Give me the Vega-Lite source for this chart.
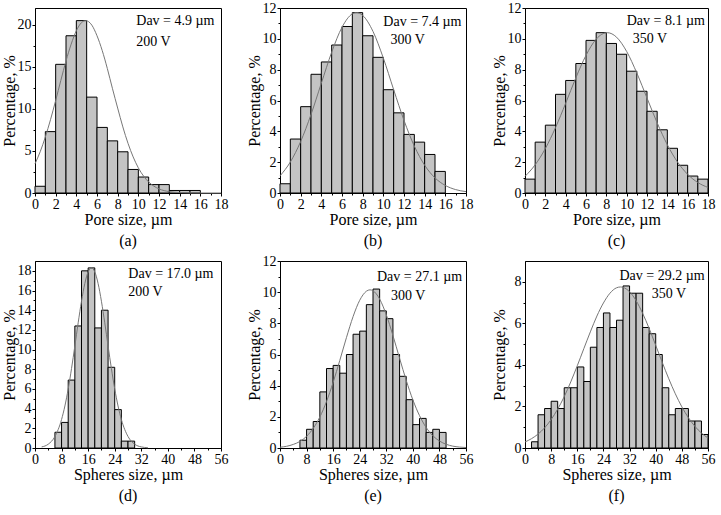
{
  "$schema": "https://vega.github.io/schema/vega-lite/v6.json",
  "background": "white",
  "padding": {"left": 0, "top": 0, "right": 0, "bottom": 0},
  "columns": 3,
  "spacing": {"row": 3, "column": 16},
  "datasets": {
    "bars": [
      {"panel":"a","from":0,"to":1,"pct":0.8},{"panel":"a","from":1,"to":2,"pct":7.3},{"panel":"a","from":2,"to":3,"pct":15.3},{"panel":"a","from":3,"to":4,"pct":18.7},{"panel":"a","from":4,"to":5,"pct":20.5},{"panel":"a","from":5,"to":6,"pct":11.4},{"panel":"a","from":6,"to":7,"pct":7.8},{"panel":"a","from":7,"to":8,"pct":6.2},{"panel":"a","from":8,"to":9,"pct":4.9},{"panel":"a","from":9,"to":10,"pct":2.8},{"panel":"a","from":10,"to":11,"pct":1.9},{"panel":"a","from":11,"to":12,"pct":1.0},{"panel":"a","from":12,"to":13,"pct":1.0},{"panel":"a","from":13,"to":14,"pct":0.3},{"panel":"a","from":14,"to":15,"pct":0.3},{"panel":"a","from":15,"to":16,"pct":0.3},
      {"panel":"b","from":0,"to":1,"pct":0.6},{"panel":"b","from":1,"to":2,"pct":3.5},{"panel":"b","from":2,"to":3,"pct":5.6},{"panel":"b","from":3,"to":4,"pct":7.7},{"panel":"b","from":4,"to":5,"pct":8.5},{"panel":"b","from":5,"to":6,"pct":9.6},{"panel":"b","from":6,"to":7,"pct":10.8},{"panel":"b","from":7,"to":8,"pct":11.7},{"panel":"b","from":8,"to":9,"pct":10.2},{"panel":"b","from":9,"to":10,"pct":8.8},{"panel":"b","from":10,"to":11,"pct":6.7},{"panel":"b","from":11,"to":12,"pct":5.2},{"panel":"b","from":12,"to":13,"pct":3.8},{"panel":"b","from":13,"to":14,"pct":3.3},{"panel":"b","from":14,"to":15,"pct":2.5},{"panel":"b","from":15,"to":16,"pct":1.4},
      {"panel":"c","from":0,"to":1,"pct":0.9},{"panel":"c","from":1,"to":2,"pct":3.3},{"panel":"c","from":2,"to":3,"pct":4.4},{"panel":"c","from":3,"to":4,"pct":6.4},{"panel":"c","from":4,"to":5,"pct":7.3},{"panel":"c","from":5,"to":6,"pct":8.4},{"panel":"c","from":6,"to":7,"pct":9.9},{"panel":"c","from":7,"to":8,"pct":10.4},{"panel":"c","from":8,"to":9,"pct":9.7},{"panel":"c","from":9,"to":10,"pct":9.0},{"panel":"c","from":10,"to":11,"pct":7.9},{"panel":"c","from":11,"to":12,"pct":6.6},{"panel":"c","from":12,"to":13,"pct":5.3},{"panel":"c","from":13,"to":14,"pct":4.1},{"panel":"c","from":14,"to":15,"pct":2.9},{"panel":"c","from":15,"to":16,"pct":1.8},{"panel":"c","from":16,"to":17,"pct":1.1},{"panel":"c","from":17,"to":18,"pct":0.9},
      {"panel":"d","from":6,"to":8,"pct":1.6},{"panel":"d","from":8,"to":10,"pct":2.6},{"panel":"d","from":10,"to":12,"pct":6.9},{"panel":"d","from":12,"to":14,"pct":12.4},{"panel":"d","from":14,"to":16,"pct":18.0},{"panel":"d","from":16,"to":18,"pct":18.3},{"panel":"d","from":18,"to":20,"pct":12.2},{"panel":"d","from":20,"to":22,"pct":14.0},{"panel":"d","from":22,"to":24,"pct":8.2},{"panel":"d","from":24,"to":26,"pct":3.9},{"panel":"d","from":26,"to":28,"pct":0.7},{"panel":"d","from":28,"to":30,"pct":0.7},
      {"panel":"e","from":6,"to":8,"pct":0.5},{"panel":"e","from":8,"to":10,"pct":1.2},{"panel":"e","from":10,"to":12,"pct":1.7},{"panel":"e","from":12,"to":14,"pct":3.6},{"panel":"e","from":14,"to":16,"pct":5.1},{"panel":"e","from":16,"to":18,"pct":5.3},{"panel":"e","from":18,"to":20,"pct":4.8},{"panel":"e","from":20,"to":22,"pct":6.0},{"panel":"e","from":22,"to":24,"pct":7.3},{"panel":"e","from":24,"to":26,"pct":7.5},{"panel":"e","from":26,"to":28,"pct":9.2},{"panel":"e","from":28,"to":30,"pct":10.2},{"panel":"e","from":30,"to":32,"pct":8.8},{"panel":"e","from":32,"to":34,"pct":8.3},{"panel":"e","from":34,"to":36,"pct":6.0},{"panel":"e","from":36,"to":38,"pct":4.6},{"panel":"e","from":38,"to":40,"pct":3.1},{"panel":"e","from":40,"to":42,"pct":1.5},{"panel":"e","from":42,"to":44,"pct":1.9},{"panel":"e","from":44,"to":46,"pct":1.0},{"panel":"e","from":46,"to":48,"pct":1.2},{"panel":"e","from":48,"to":50,"pct":1.0},
      {"panel":"f","from":2,"to":4,"pct":0.3},{"panel":"f","from":4,"to":6,"pct":1.6},{"panel":"f","from":6,"to":8,"pct":1.9},{"panel":"f","from":8,"to":10,"pct":2.25},{"panel":"f","from":10,"to":12,"pct":1.9},{"panel":"f","from":12,"to":14,"pct":2.9},{"panel":"f","from":14,"to":16,"pct":2.9},{"panel":"f","from":16,"to":18,"pct":3.9},{"panel":"f","from":18,"to":20,"pct":3.2},{"panel":"f","from":20,"to":22,"pct":4.85},{"panel":"f","from":22,"to":24,"pct":5.8},{"panel":"f","from":24,"to":26,"pct":6.5},{"panel":"f","from":26,"to":28,"pct":5.8},{"panel":"f","from":28,"to":30,"pct":6.15},{"panel":"f","from":30,"to":32,"pct":7.8},{"panel":"f","from":32,"to":34,"pct":7.45},{"panel":"f","from":34,"to":36,"pct":7.45},{"panel":"f","from":36,"to":38,"pct":5.8},{"panel":"f","from":38,"to":40,"pct":5.5},{"panel":"f","from":40,"to":42,"pct":4.5},{"panel":"f","from":42,"to":44,"pct":2.9},{"panel":"f","from":44,"to":46,"pct":1.6},{"panel":"f","from":46,"to":48,"pct":1.9},{"panel":"f","from":48,"to":50,"pct":1.9},{"panel":"f","from":50,"to":52,"pct":1.3},{"panel":"f","from":52,"to":54,"pct":1.3},{"panel":"f","from":54,"to":56,"pct":0.65}
    ],
    "curves": [
      {"panel":"a","x":0,"y":3.47},{"panel":"a","x":0.5,"y":4.9},{"panel":"a","x":1,"y":6.66},{"panel":"a","x":1.5,"y":8.72},{"panel":"a","x":2,"y":11.0},{"panel":"a","x":2.5,"y":13.39},{"panel":"a","x":3,"y":15.7},{"panel":"a","x":3.5,"y":17.7},{"panel":"a","x":4,"y":19.3},{"panel":"a","x":4.5,"y":20.26},{"panel":"a","x":4.9,"y":20.5},{"panel":"a","x":5.5,"y":19.96},{"panel":"a","x":6,"y":18.7},{"panel":"a","x":6.5,"y":16.96},{"panel":"a","x":7,"y":14.8},{"panel":"a","x":7.5,"y":12.4},{"panel":"a","x":8,"y":10.1},{"panel":"a","x":8.5,"y":7.86},{"panel":"a","x":9,"y":5.91},{"panel":"a","x":9.5,"y":4.29},{"panel":"a","x":10,"y":2.99},{"panel":"a","x":10.5,"y":2.02},{"panel":"a","x":11,"y":1.31},{"panel":"a","x":11.5,"y":0.82},{"panel":"a","x":12,"y":0.49},{"panel":"a","x":13,"y":0.16},{"panel":"a","x":14,"y":0.05},{"panel":"a","x":15,"y":0.01},{"panel":"a","x":16,"y":0},{"panel":"a","x":18,"y":0},
      {"panel":"b","x":0,"y":1.11},{"panel":"b","x":1,"y":2.01},{"panel":"b","x":2,"y":3.34},{"panel":"b","x":3,"y":5.09},{"panel":"b","x":4,"y":7.12},{"panel":"b","x":5,"y":9.13},{"panel":"b","x":6,"y":10.75},{"panel":"b","x":7,"y":11.62},{"panel":"b","x":7.4,"y":11.7},{"panel":"b","x":8,"y":11.52},{"panel":"b","x":9,"y":10.48},{"panel":"b","x":10,"y":8.75},{"panel":"b","x":11,"y":6.7},{"panel":"b","x":12,"y":4.71},{"panel":"b","x":13,"y":3.04},{"panel":"b","x":14,"y":1.8},{"panel":"b","x":15,"y":0.98},{"panel":"b","x":16,"y":0.49},{"panel":"b","x":17,"y":0.22},{"panel":"b","x":18,"y":0.09},
      {"panel":"c","x":0,"y":1.08},{"panel":"c","x":1,"y":1.83},{"panel":"c","x":2,"y":2.88},{"panel":"c","x":3,"y":4.24},{"panel":"c","x":4,"y":5.82},{"panel":"c","x":5,"y":7.47},{"panel":"c","x":6,"y":8.93},{"panel":"c","x":7,"y":9.98},{"panel":"c","x":8.1,"y":10.4},{"panel":"c","x":9,"y":10.11},{"panel":"c","x":10,"y":9.18},{"panel":"c","x":11,"y":7.78},{"panel":"c","x":12,"y":6.16},{"panel":"c","x":13,"y":4.55},{"panel":"c","x":14,"y":3.13},{"panel":"c","x":15,"y":2.01},{"panel":"c","x":16,"y":1.21},{"panel":"c","x":17,"y":0.68},{"panel":"c","x":18,"y":0.36},
      {"panel":"d","x":2,"y":0.11},{"panel":"d","x":4,"y":0.39},{"panel":"d","x":6,"y":1.17},{"panel":"d","x":8,"y":2.9},{"panel":"d","x":9,"y":4.27},{"panel":"d","x":10,"y":6.01},{"panel":"d","x":11,"y":8.08},{"panel":"d","x":12,"y":10.37},{"panel":"d","x":13,"y":12.72},{"panel":"d","x":14,"y":14.91},{"panel":"d","x":15,"y":16.71},{"panel":"d","x":16,"y":17.89},{"panel":"d","x":17,"y":18.3},{"panel":"d","x":18,"y":17.89},{"panel":"d","x":19,"y":16.71},{"panel":"d","x":20,"y":14.91},{"panel":"d","x":21,"y":12.72},{"panel":"d","x":22,"y":10.37},{"panel":"d","x":23,"y":8.08},{"panel":"d","x":24,"y":6.01},{"panel":"d","x":25,"y":4.27},{"panel":"d","x":26,"y":2.9},{"panel":"d","x":28,"y":1.17},{"panel":"d","x":30,"y":0.39},{"panel":"d","x":32,"y":0.11},{"panel":"d","x":34,"y":0.03},
      {"panel":"e","x":0,"y":0.05},{"panel":"e","x":2,"y":0.11},{"panel":"e","x":4,"y":0.23},{"panel":"e","x":6,"y":0.42},{"panel":"e","x":8,"y":0.75},{"panel":"e","x":10,"y":1.26},{"panel":"e","x":12,"y":1.99},{"panel":"e","x":14,"y":2.98},{"panel":"e","x":16,"y":4.21},{"panel":"e","x":18,"y":5.62},{"panel":"e","x":20,"y":7.08},{"panel":"e","x":22,"y":8.43},{"panel":"e","x":24,"y":9.48},{"panel":"e","x":26,"y":10.06},{"panel":"e","x":27.1,"y":10.15},{"panel":"e","x":28,"y":10.09},{"panel":"e","x":30,"y":9.56},{"panel":"e","x":32,"y":8.55},{"panel":"e","x":34,"y":7.22},{"panel":"e","x":36,"y":5.76},{"panel":"e","x":38,"y":4.34},{"panel":"e","x":40,"y":3.09},{"panel":"e","x":42,"y":2.08},{"panel":"e","x":44,"y":1.32},{"panel":"e","x":46,"y":0.79},{"panel":"e","x":48,"y":0.45},{"panel":"e","x":50,"y":0.24},{"panel":"e","x":52,"y":0.12},{"panel":"e","x":54,"y":0.06},{"panel":"e","x":56,"y":0.03},
      {"panel":"f","x":0,"y":0.29},{"panel":"f","x":2,"y":0.45},{"panel":"f","x":4,"y":0.67},{"panel":"f","x":6,"y":0.97},{"panel":"f","x":8,"y":1.37},{"panel":"f","x":10,"y":1.87},{"panel":"f","x":12,"y":2.47},{"panel":"f","x":14,"y":3.18},{"panel":"f","x":16,"y":3.96},{"panel":"f","x":18,"y":4.78},{"panel":"f","x":20,"y":5.59},{"panel":"f","x":22,"y":6.35},{"panel":"f","x":24,"y":6.98},{"panel":"f","x":26,"y":7.45},{"panel":"f","x":28,"y":7.71},{"panel":"f","x":29.2,"y":7.75},{"panel":"f","x":30,"y":7.73},{"panel":"f","x":32,"y":7.52},{"panel":"f","x":34,"y":7.09},{"panel":"f","x":36,"y":6.48},{"panel":"f","x":38,"y":5.75},{"panel":"f","x":40,"y":4.94},{"panel":"f","x":42,"y":4.12},{"panel":"f","x":44,"y":3.33},{"panel":"f","x":46,"y":2.61},{"panel":"f","x":48,"y":1.98},{"panel":"f","x":50,"y":1.46},{"panel":"f","x":52,"y":1.04},{"panel":"f","x":54,"y":0.72},{"panel":"f","x":56,"y":0.48}
    ],
    "notes": [
      {"panel":"a","x":9.8,"y":20.4,"text":"Dav = 4.9 µm"},{"panel":"a","x":9.8,"y":18.0,"text":"200 V"},
      {"panel":"b","x":10.0,"y":11.1,"text":"Dav = 7.4 µm"},{"panel":"b","x":10.7,"y":9.9,"text":"300 V"},
      {"panel":"c","x":10.0,"y":11.15,"text":"Dav = 8.1 µm"},{"panel":"c","x":10.6,"y":9.97,"text":"350 V"},
      {"panel":"d","x":28.1,"y":17.7,"text":"Dav = 17.0 µm"},{"panel":"d","x":28.1,"y":15.8,"text":"200 V"},
      {"panel":"e","x":29.2,"y":11.0,"text":"Dav = 27.1 µm"},{"panel":"e","x":33.4,"y":9.76,"text":"300 V"},
      {"panel":"f","x":28.9,"y":8.28,"text":"Dav = 29.2 µm"},{"panel":"f","x":38.8,"y":7.42,"text":"350 V"}
    ]
  },
  "concat": [
    {
      "width": 186, "height": 185,
      "title": {"text": "(a)", "orient": "bottom", "offset": 6},
      "layer": [
        {"data": {"name": "bars"}, "transform": [{"filter": "datum.panel == 'a'"}],
         "mark": {"type": "rect", "fill": "#c4c4c4", "stroke": "black", "strokeWidth": 1},
         "encoding": {
           "x": {"field": "from", "type": "quantitative", "scale": {"domain": [0, 18], "nice": false, "zero": false},
                 "axis": {"title": "Pore size, µm", "format": "d", "values": [0,1,2,3,4,5,6,7,8,9,10,11,12,13,14,15,16,17,18], "labelExpr": "datum.value % 2 ? '' : datum.label", "tickSize": {"condition": {"test": "datum.value % 2", "value": 2}, "value": 3}}},
           "x2": {"field": "to"},
           "y": {"field": "pct", "type": "quantitative", "scale": {"domain": [0, 22], "nice": false},
                 "axis": {"title": "Percentage, %", "format": "d", "values": [0,2.5,5,7.5,10,12.5,15,17.5,20], "labelExpr": "datum.value % 5 ? '' : datum.label", "tickSize": {"condition": {"test": "datum.value % 5", "value": 2}, "value": 3}}},
           "y2": {"datum": 0}
         }},
        {"data": {"name": "curves"}, "transform": [{"filter": "datum.panel == 'a'"}],
         "mark": {"type": "line", "color": "#777777", "strokeWidth": 1, "interpolate": "monotone"},
         "encoding": {"x": {"field": "x", "type": "quantitative"}, "y": {"field": "y", "type": "quantitative"}}},
        {"data": {"name": "notes"}, "transform": [{"filter": "datum.panel == 'a'"}],
         "mark": {"type": "text", "align": "left", "baseline": "middle", "fontSize": 14, "font": "Liberation Serif", "color": "black"},
         "encoding": {"x": {"field": "x", "type": "quantitative"}, "y": {"field": "y", "type": "quantitative"}, "text": {"field": "text"}}}
      ]
    },
    {
      "width": 186, "height": 185,
      "title": {"text": "(b)", "orient": "bottom", "offset": 6},
      "layer": [
        {"data": {"name": "bars"}, "transform": [{"filter": "datum.panel == 'b'"}],
         "mark": {"type": "rect", "fill": "#c4c4c4", "stroke": "black", "strokeWidth": 1},
         "encoding": {
           "x": {"field": "from", "type": "quantitative", "scale": {"domain": [0, 18], "nice": false, "zero": false},
                 "axis": {"title": "Pore size, µm", "format": "d", "values": [0,1,2,3,4,5,6,7,8,9,10,11,12,13,14,15,16,17,18], "labelExpr": "datum.value % 2 ? '' : datum.label", "tickSize": {"condition": {"test": "datum.value % 2", "value": 2}, "value": 3}}},
           "x2": {"field": "to"},
           "y": {"field": "pct", "type": "quantitative", "scale": {"domain": [0, 12], "nice": false},
                 "axis": {"title": "Percentage, %", "format": "d", "values": [0,1,2,3,4,5,6,7,8,9,10,11,12], "labelExpr": "datum.value % 2 ? '' : datum.label", "tickSize": {"condition": {"test": "datum.value % 2", "value": 2}, "value": 3}}},
           "y2": {"datum": 0}
         }},
        {"data": {"name": "curves"}, "transform": [{"filter": "datum.panel == 'b'"}],
         "mark": {"type": "line", "color": "#777777", "strokeWidth": 1, "interpolate": "monotone"},
         "encoding": {"x": {"field": "x", "type": "quantitative"}, "y": {"field": "y", "type": "quantitative"}}},
        {"data": {"name": "notes"}, "transform": [{"filter": "datum.panel == 'b'"}],
         "mark": {"type": "text", "align": "left", "baseline": "middle", "fontSize": 14, "font": "Liberation Serif", "color": "black"},
         "encoding": {"x": {"field": "x", "type": "quantitative"}, "y": {"field": "y", "type": "quantitative"}, "text": {"field": "text"}}}
      ]
    },
    {
      "width": 183, "height": 185,
      "title": {"text": "(c)", "orient": "bottom", "offset": 6},
      "layer": [
        {"data": {"name": "bars"}, "transform": [{"filter": "datum.panel == 'c'"}],
         "mark": {"type": "rect", "fill": "#c4c4c4", "stroke": "black", "strokeWidth": 1},
         "encoding": {
           "x": {"field": "from", "type": "quantitative", "scale": {"domain": [0, 18], "nice": false, "zero": false},
                 "axis": {"title": "Pore size, µm", "format": "d", "values": [0,1,2,3,4,5,6,7,8,9,10,11,12,13,14,15,16,17,18], "labelExpr": "datum.value % 2 ? '' : datum.label", "tickSize": {"condition": {"test": "datum.value % 2", "value": 2}, "value": 3}}},
           "x2": {"field": "to"},
           "y": {"field": "pct", "type": "quantitative", "scale": {"domain": [0, 12], "nice": false},
                 "axis": {"title": "Percentage, %", "format": "d", "values": [0,1,2,3,4,5,6,7,8,9,10,11,12], "labelExpr": "datum.value % 2 ? '' : datum.label", "tickSize": {"condition": {"test": "datum.value % 2", "value": 2}, "value": 3}}},
           "y2": {"datum": 0}
         }},
        {"data": {"name": "curves"}, "transform": [{"filter": "datum.panel == 'c'"}],
         "mark": {"type": "line", "color": "#777777", "strokeWidth": 1, "interpolate": "monotone"},
         "encoding": {"x": {"field": "x", "type": "quantitative"}, "y": {"field": "y", "type": "quantitative"}}},
        {"data": {"name": "notes"}, "transform": [{"filter": "datum.panel == 'c'"}],
         "mark": {"type": "text", "align": "left", "baseline": "middle", "fontSize": 14, "font": "Liberation Serif", "color": "black"},
         "encoding": {"x": {"field": "x", "type": "quantitative"}, "y": {"field": "y", "type": "quantitative"}, "text": {"field": "text"}}}
      ]
    },
    {
      "width": 186, "height": 187,
      "title": {"text": "(d)", "orient": "bottom", "offset": 6},
      "layer": [
        {"data": {"name": "bars"}, "transform": [{"filter": "datum.panel == 'd'"}],
         "mark": {"type": "rect", "fill": "#c4c4c4", "stroke": "black", "strokeWidth": 1},
         "encoding": {
           "x": {"field": "from", "type": "quantitative", "scale": {"domain": [0, 56], "nice": false, "zero": false},
                 "axis": {"title": "Spheres size, µm", "format": "d", "values": [0,4,8,12,16,20,24,28,32,36,40,44,48,52,56], "labelExpr": "datum.value % 8 ? '' : datum.label", "tickSize": {"condition": {"test": "datum.value % 8", "value": 2}, "value": 3}}},
           "x2": {"field": "to"},
           "y": {"field": "pct", "type": "quantitative", "scale": {"domain": [0, 19], "nice": false},
                 "axis": {"title": "Percentage, %", "format": "d", "values": [0,1,2,3,4,5,6,7,8,9,10,11,12,13,14,15,16,17,18], "labelExpr": "datum.value % 2 ? '' : datum.label", "tickSize": {"condition": {"test": "datum.value % 2", "value": 2}, "value": 3}}},
           "y2": {"datum": 0}
         }},
        {"data": {"name": "curves"}, "transform": [{"filter": "datum.panel == 'd'"}],
         "mark": {"type": "line", "color": "#777777", "strokeWidth": 1, "interpolate": "monotone"},
         "encoding": {"x": {"field": "x", "type": "quantitative"}, "y": {"field": "y", "type": "quantitative"}}},
        {"data": {"name": "notes"}, "transform": [{"filter": "datum.panel == 'd'"}],
         "mark": {"type": "text", "align": "left", "baseline": "middle", "fontSize": 14, "font": "Liberation Serif", "color": "black"},
         "encoding": {"x": {"field": "x", "type": "quantitative"}, "y": {"field": "y", "type": "quantitative"}, "text": {"field": "text"}}}
      ]
    },
    {
      "width": 186, "height": 187,
      "title": {"text": "(e)", "orient": "bottom", "offset": 6},
      "layer": [
        {"data": {"name": "bars"}, "transform": [{"filter": "datum.panel == 'e'"}],
         "mark": {"type": "rect", "fill": "#c4c4c4", "stroke": "black", "strokeWidth": 1},
         "encoding": {
           "x": {"field": "from", "type": "quantitative", "scale": {"domain": [0, 56], "nice": false, "zero": false},
                 "axis": {"title": "Spheres size, µm", "format": "d", "values": [0,4,8,12,16,20,24,28,32,36,40,44,48,52,56], "labelExpr": "datum.value % 8 ? '' : datum.label", "tickSize": {"condition": {"test": "datum.value % 8", "value": 2}, "value": 3}}},
           "x2": {"field": "to"},
           "y": {"field": "pct", "type": "quantitative", "scale": {"domain": [0, 12], "nice": false},
                 "axis": {"title": "Percentage, %", "format": "d", "values": [0,1,2,3,4,5,6,7,8,9,10,11,12], "labelExpr": "datum.value % 2 ? '' : datum.label", "tickSize": {"condition": {"test": "datum.value % 2", "value": 2}, "value": 3}}},
           "y2": {"datum": 0}
         }},
        {"data": {"name": "curves"}, "transform": [{"filter": "datum.panel == 'e'"}],
         "mark": {"type": "line", "color": "#777777", "strokeWidth": 1, "interpolate": "monotone"},
         "encoding": {"x": {"field": "x", "type": "quantitative"}, "y": {"field": "y", "type": "quantitative"}}},
        {"data": {"name": "notes"}, "transform": [{"filter": "datum.panel == 'e'"}],
         "mark": {"type": "text", "align": "left", "baseline": "middle", "fontSize": 14, "font": "Liberation Serif", "color": "black"},
         "encoding": {"x": {"field": "x", "type": "quantitative"}, "y": {"field": "y", "type": "quantitative"}, "text": {"field": "text"}}}
      ]
    },
    {
      "width": 183, "height": 187,
      "title": {"text": "(f)", "orient": "bottom", "offset": 6},
      "layer": [
        {"data": {"name": "bars"}, "transform": [{"filter": "datum.panel == 'f'"}],
         "mark": {"type": "rect", "fill": "#c4c4c4", "stroke": "black", "strokeWidth": 1},
         "encoding": {
           "x": {"field": "from", "type": "quantitative", "scale": {"domain": [0, 56], "nice": false, "zero": false},
                 "axis": {"title": "Spheres size, µm", "format": "d", "values": [0,4,8,12,16,20,24,28,32,36,40,44,48,52,56], "labelExpr": "datum.value % 8 ? '' : datum.label", "tickSize": {"condition": {"test": "datum.value % 8", "value": 2}, "value": 3}}},
           "x2": {"field": "to"},
           "y": {"field": "pct", "type": "quantitative", "scale": {"domain": [0, 9], "nice": false},
                 "axis": {"title": "Percentage, %", "format": "d", "values": [0,1,2,3,4,5,6,7,8], "labelExpr": "datum.value % 2 ? '' : datum.label", "tickSize": {"condition": {"test": "datum.value % 2", "value": 2}, "value": 3}}},
           "y2": {"datum": 0}
         }},
        {"data": {"name": "curves"}, "transform": [{"filter": "datum.panel == 'f'"}],
         "mark": {"type": "line", "color": "#777777", "strokeWidth": 1, "interpolate": "monotone"},
         "encoding": {"x": {"field": "x", "type": "quantitative"}, "y": {"field": "y", "type": "quantitative"}}},
        {"data": {"name": "notes"}, "transform": [{"filter": "datum.panel == 'f'"}],
         "mark": {"type": "text", "align": "left", "baseline": "middle", "fontSize": 14, "font": "Liberation Serif", "color": "black"},
         "encoding": {"x": {"field": "x", "type": "quantitative"}, "y": {"field": "y", "type": "quantitative"}, "text": {"field": "text"}}}
      ]
    }
  ],
  "config": {
    "font": "Liberation Serif",
    "view": {"stroke": "black", "strokeWidth": 1},
    "axis": {"domainColor": "black", "tickColor": "black", "labelColor": "black", "titleColor": "black", "labelFont": "Liberation Serif", "titleFont": "Liberation Serif", "labelFontSize": 14, "titleFontSize": 16, "titleFontWeight": "normal", "grid": false, "labelOverlap": false, "labelFlush": false, "labelPadding": 1, "titlePadding": 0, "domainWidth": 1, "tickWidth": 1, "tickSize": 3, "tickCount": 100},
    "axisY": {"minExtent": 18, "maxExtent": 18},
    "title": {"font": "Liberation Serif", "fontSize": 16, "fontWeight": "normal", "color": "black"}
  }
}
